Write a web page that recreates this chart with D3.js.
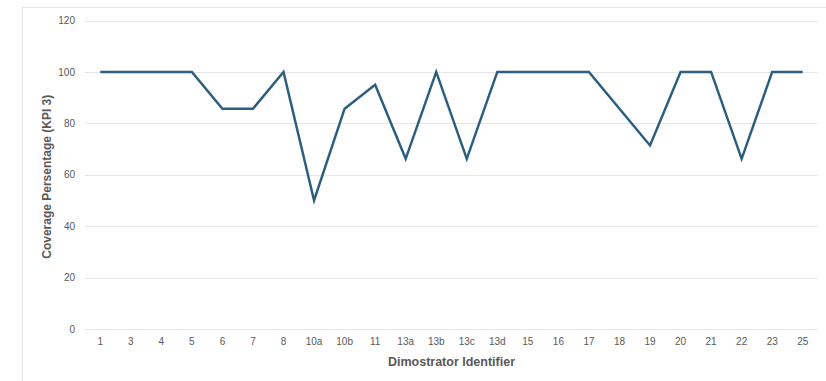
<!DOCTYPE html>
<html>
<head>
<meta charset="utf-8">
<script src="https://cdn.jsdelivr.net/npm/d3@7"></script>
<style>
  html, body { margin: 0; padding: 0; background: #fff; }
  svg { display: block; }
</style>
</head>
<body>
<svg id="chart" width="826" height="381"></svg>
<script>
// Distributor identifiers along the x axis
const identifiers = ["1", "3", "4", "5", "6", "7", "8", "10a", "10b", "11", "13a", "13b",
  "13c", "13d", "15", "16", "17", "18", "19", "20", "21", "22", "23", "25"];

// Coverage percentage (KPI 3) per identifier
const coverage = [100, 100, 100, 100, 85.7, 85.7, 100, 50, 85.7, 95, 66.2, 100,
  66.2, 100, 100, 100, 100, 85.7, 71.4, 100, 100, 66.2, 100, 100];

// Y axis ticks
const yTicks = [0, 20, 40, 60, 80, 100, 120];

const svg = d3.select("#chart");
const W = 826, H = 381;
const margin = { left: 85, right: 8, top: 20.5, bottom: 52 };

const tickFont = "'Liberation Sans', Arial, sans-serif";
const titleFont = "'Liberation Sans Narrow', 'Arial Narrow', 'Liberation Sans', sans-serif";

// Chart frame (light border, left and top edges visible)
svg.append("rect")
  .attr("x", 22.5).attr("y", 7.5)
  .attr("width", W + 10).attr("height", H + 10)
  .attr("fill", "none").attr("stroke", "#e3e3e3").attr("stroke-width", 1);

const x = d3.scaleBand()
  .domain(identifiers)
  .range([margin.left, 818]);

const y = d3.scaleLinear()
  .domain([0, 120])
  .range([329, 20.5]);

// Horizontal gridlines
svg.append("g")
  .selectAll("line")
  .data(yTicks)
  .join("line")
  .attr("x1", margin.left).attr("x2", 818)
  .attr("y1", d => Math.round(y(d)) + 0.5)
  .attr("y2", d => Math.round(y(d)) + 0.5)
  .attr("stroke", "#e6e6e6").attr("stroke-width", 1);

// Y axis labels
const yAxis = d3.axisLeft(y).tickValues(yTicks).tickSize(0).tickPadding(0);
svg.append("g")
  .attr("transform", "translate(75,0)")
  .call(yAxis)
  .call(g => g.select(".domain").remove())
  .call(g => g.selectAll("text")
    .attr("font-family", tickFont)
    .attr("font-size", 10)
    .attr("fill", "#595959"));

// X axis labels
const xAxis = d3.axisBottom(x).tickSize(0).tickPadding(0);
svg.append("g")
  .attr("transform", "translate(0,338)")
  .call(xAxis)
  .call(g => g.select(".domain").remove())
  .call(g => g.selectAll("text")
    .attr("font-family", tickFont)
    .attr("font-size", 10)
    .attr("fill", "#595959"));

// Coverage line
const line = d3.line()
  .x((d, i) => x(identifiers[i]) + x.bandwidth() / 2)
  .y(d => y(d));

svg.append("path")
  .datum(coverage)
  .attr("d", line)
  .attr("fill", "none")
  .attr("stroke", "#2e5e7e")
  .attr("stroke-width", 2.5)
  .attr("stroke-linejoin", "miter");

// Axis titles
svg.append("text")
  .attr("x", (margin.left + 818) / 2)
  .attr("y", 366)
  .attr("text-anchor", "middle")
  .attr("font-family", titleFont)
  .attr("font-weight", "bold")
  .attr("font-size", 12.5)
  .attr("fill", "#595959")
  .text("Dimostrator Identifier");

svg.append("text")
  .attr("transform", `translate(51,${(20.5 + 329) / 2 + 2}) rotate(-90)`)
  .attr("text-anchor", "middle")
  .attr("font-family", titleFont)
  .attr("font-weight", "bold")
  .attr("font-size", 12)
  .attr("fill", "#595959")
  .text("Coverage Persentage (KPI 3)");
</script>
</body>
</html>
